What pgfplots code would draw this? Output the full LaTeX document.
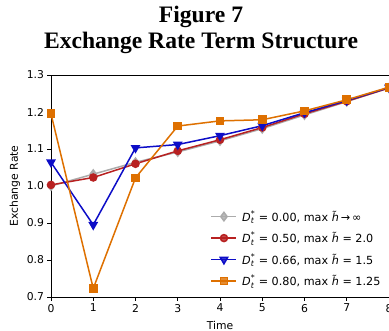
\documentclass[border=0pt]{standalone}
\usepackage{amsmath}
\usepackage{fontspec}
\setmainfont{DejaVu Sans}
\newfontfamily\titlefont{Liberation Serif}
\usepackage{pgfplots}
\pgfplotsset{compat=1.18}
\definecolor{cgray}{rgb}{0.67,0.67,0.67}
\definecolor{cred}{rgb}{0.72,0.13,0.13}
\definecolor{cblue}{rgb}{0.05,0.05,0.78}
\definecolor{corange}{rgb}{0.87,0.44,0.0}
\pgfplotstableread{
t gray red blue orange
0 1.000 1.003 1.064 1.195
1 1.032 1.023 0.895 0.723
2 1.064 1.060 1.103 1.022
3 1.092 1.095 1.112 1.162
4 1.122 1.125 1.136 1.176
5 1.155 1.158 1.163 1.179
6 1.192 1.195 1.198 1.203
7 1.228 1.229 1.231 1.233
8 1.265 1.265 1.266 1.267
}\datatable
\begin{document}
\begin{tikzpicture}
\begin{axis}[
  at={(0,0)}, anchor=south west,
  scale only axis, width=338bp, height=222bp,
  xmin=0, xmax=8, ymin=0.7, ymax=1.3,
  xtick={0,...,8}, ytick={0.7,0.8,...,1.3},
  clip=false,
  font=\fontsize{10.8bp}{13bp}\selectfont,
  /pgf/number format/assume math mode=true,
  yticklabel style={/pgf/number format/fixed,/pgf/number format/fixed zerofill,/pgf/number format/precision=1},
  tick align=outside, major tick length=3.5bp,
  xtick pos=bottom, ytick pos=left,
  axis line style={black, line width=0.8bp},
  tick style={black, line width=0.8bp},
  xlabel={Time}, ylabel={Exchange Rate},
  every axis x label/.style={at={(axis description cs:0.5,-0.126)}, anchor=center},
  every axis y label/.style={at={(axis description cs:-0.107,0.5)}, rotate=90, anchor=center},
  legend cell align=left,
  legend style={at={(axis description cs:0.99,0.025)}, anchor=south east, draw=none, fill=white, fill opacity=0.8, text opacity=1, row sep=5.2bp, font=\fontsize{11.2bp}{13bp}\selectfont,
    /tikz/every odd column/.style={column sep=3bp}},
  legend image code/.code={\draw[mark repeat=2,mark phase=2,#1] plot coordinates {(0bp,0bp) (12.5bp,0bp) (25bp,0bp)};},
]
\addplot[cgray, line width=1.5bp, mark=diamond*, mark size=4.2bp, mark options={fill=cgray}] table[x=t,y=gray] {\datatable};
\addlegendentry{$\textit{D}_{\textit{t}}^{\text{*}}$ = 0.00, max \textit{\~{h}}\,→\,∞}
\addplot[cred, line width=1.5bp, mark=*, mark size=3.5bp, mark options={fill=cred}] table[x=t,y=red] {\datatable};
\addlegendentry{$\textit{D}_{\textit{t}}^{\text{*}}$ = 0.50, max \textit{\~{h}} = 2.0}
\addplot[cblue, line width=1.5bp, mark=triangle*, mark size=4.2bp, mark options={fill=cblue, rotate=180}] table[x=t,y=blue] {\datatable};
\addlegendentry{$\textit{D}_{\textit{t}}^{\text{*}}$ = 0.66, max \textit{\~{h}} = 1.5}
\addplot[corange, line width=1.5bp, mark=square*, mark size=3.6bp, mark options={fill=corange}] table[x=t,y=orange] {\datatable};
\addlegendentry{$\textit{D}_{\textit{t}}^{\text{*}}$ = 0.80, max \textit{\~{h}} = 1.25}
\node[font=\titlefont\bfseries\fontsize{23.6bp}{28bp}\selectfont, anchor=base] at (axis description cs:0.4438,1.2387) {Figure 7};
\node[font=\titlefont\bfseries\fontsize{23.6bp}{28bp}\selectfont, anchor=base] at (axis description cs:0.4438,1.1216) {Exchange Rate Term Structure};
\end{axis}
\pgfresetboundingbox
\useasboundingbox (-51bp,-34bp) rectangle (338bp,297bp);
\end{tikzpicture}
\end{document}
